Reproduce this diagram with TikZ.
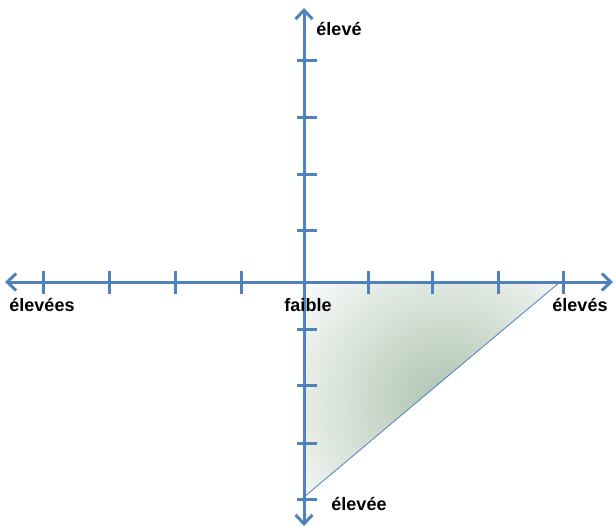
\documentclass[tikz,border=0pt]{standalone}
\usepackage{fontspec}
\setmainfont{Liberation Sans}
\usetikzlibrary{arrows.meta}
\definecolor{axisblue}{RGB}{79,129,189}
\definecolor{shadegreen}{RGB}{172,195,175}
\begin{document}
\begin{tikzpicture}[x=1pt,y=-1pt,
  axisline/.style={draw=axisblue,line width=3pt,-{Straight Barb[length=9pt,width=17pt]}},
  tickmark/.style={draw=axisblue,line width=3pt},
  lbl/.style={font=\fontsize{18}{20}\selectfont\bfseries,inner sep=0pt,anchor=center}]
\useasboundingbox (0,0) rectangle (616,531);
% triangle
\coordinate (O) at (304,282);
\coordinate (R) at (560,282);
\coordinate (B) at (304,497);
\coordinate (C) at (445,405);
\begin{scope}
  \clip (O) -- (R) -- (B) -- cycle;
  \shade[inner color=shadegreen,outer color=white] (C) circle (200);
\end{scope}
\draw[axisblue,line width=0.8pt] (R) -- (B);
% axes
\coordinate (left) at (5,282);
\coordinate (right) at (613,282);
\coordinate (top) at (304,8);
\coordinate (bottom) at (304,526);
\draw[axisline] (O) -- (left);
\draw[axisline] (O) -- (right);
\draw[axisline] (O) -- (top);
\draw[axisline] (O) -- (bottom);
% ticks
\foreach \x in {43,109,175,241,368,432,498,563}
  \draw[tickmark] (\x,271) -- (\x,294);
\foreach \y in {60,117,174,230,329,385,443,499}
  \draw[tickmark] (297,\y) -- (317,\y);
% labels
\node[lbl] (ltop) at (339,29) {élevé};
\node[lbl] (lleft) at (42,305) {élevées};
\node[lbl] (lright) at (580,305) {élevés};
\node[lbl] (lbot) at (359,504) {élevée};
\node[lbl] (lmid) at (308,305) {faible};
\end{tikzpicture}
\end{document}
